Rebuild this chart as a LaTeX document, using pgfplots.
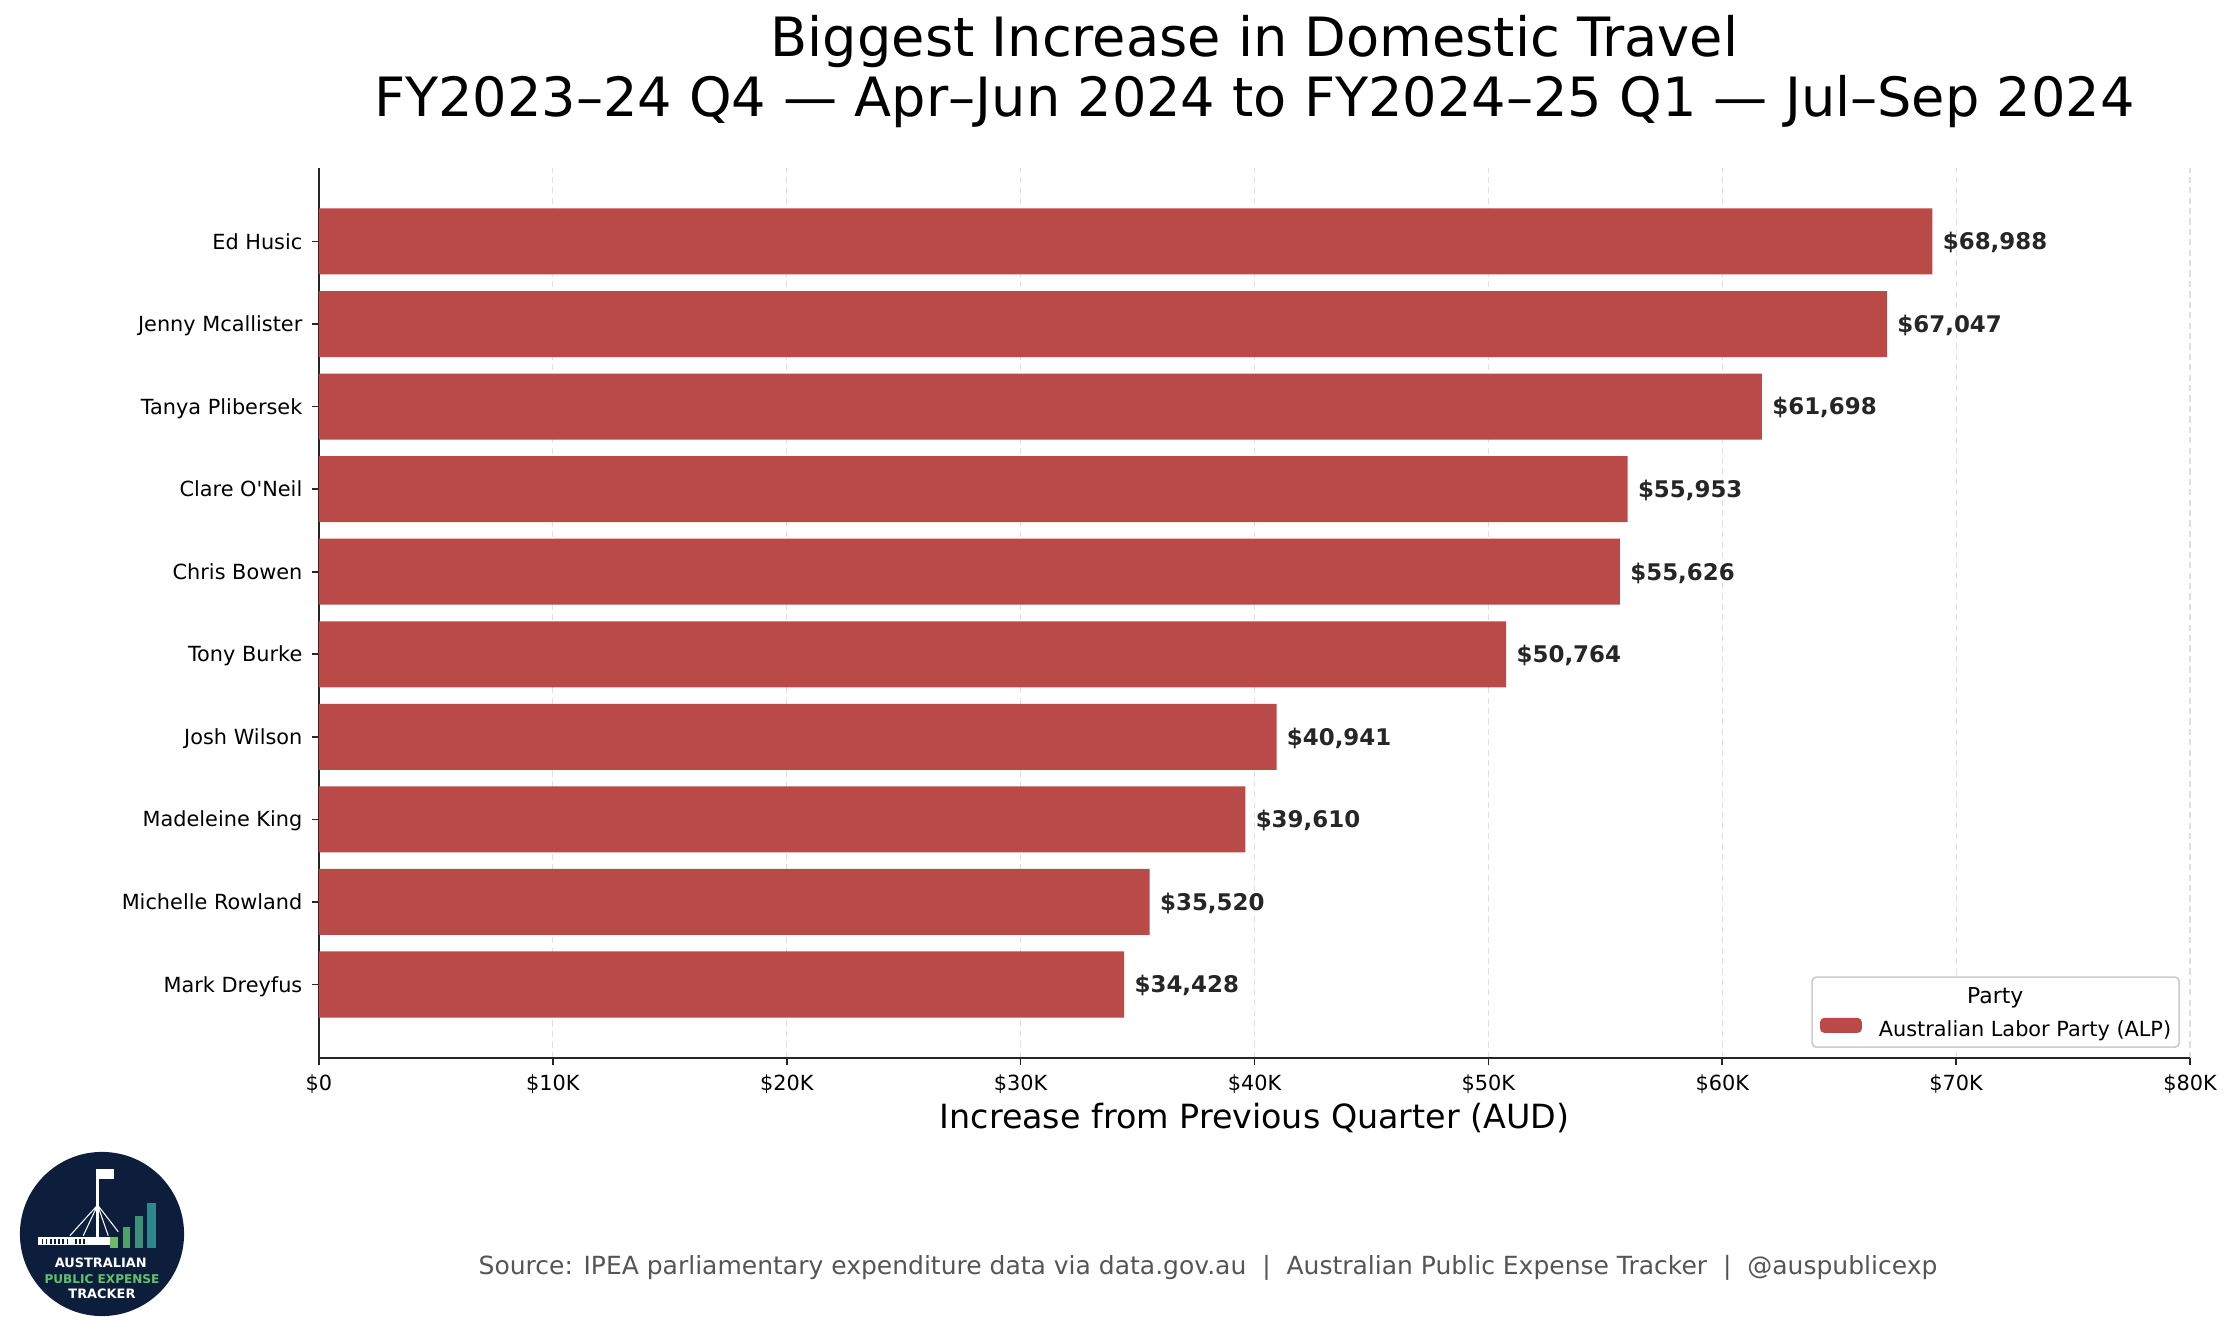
\documentclass[border=0pt]{standalone}
\usepackage{fontspec}
\setmainfont{DejaVu Sans}
\usepackage{pgfplots}
\pgfplotsset{compat=1.18}
\definecolor{barred}{RGB}{185,74,72}
\definecolor{axgray}{RGB}{38,38,38}
\definecolor{srcgray}{RGB}{85,85,85}
\definecolor{navy}{RGB}{12,30,60}
\definecolor{lgA}{RGB}{110,185,100}
\definecolor{lgB}{RGB}{80,160,105}
\definecolor{lgC}{RGB}{60,145,120}
\definecolor{lgD}{RGB}{45,135,140}
\definecolor{logogreen}{RGB}{92,196,106}
\begin{document}
\begin{tikzpicture}
\path[use as bounding box] (-153.12pt,-133.92pt) rectangle (917.76pt,507.84pt);
\begin{axis}[
  at={(0pt,0pt)}, anchor=south west,
  scale only axis, width=898.08pt, height=427.2pt,
  xbar, bar width=0.8, bar shift=0pt,
  xmin=0, xmax=80000, ymin=-0.89, ymax=9.89,
  enlargelimits=false,
  axis x line*=bottom, axis y line*=left,
  axis line style={line width=0.8pt, draw=axgray},
  tick style={line width=0.8pt, draw=axgray},
  tick align=outside, major tick length=3.5pt,
  xtick={0,10000,20000,30000,40000,50000,60000,70000,80000},
  xticklabels={\$0,\$10K,\$20K,\$30K,\$40K,\$50K,\$60K,\$70K,\$80K},
  scaled x ticks=false,
  ytick={0,1,2,3,4,5,6,7,8,9},
  yticklabels={Mark Dreyfus, Michelle Rowland, Madeleine King, Josh Wilson, Tony Burke, Chris Bowen, Clare O\textquotesingle Neil, Tanya Plibersek, Jenny Mcallister, Ed Husic},
  /pgf/number format/assume math mode=true,
  xticklabel style={font=\fontsize{10}{12}\selectfont, inner sep=0pt, text height=7.29pt, text depth=0pt, yshift=-4.66pt},
  yticklabel style={font=\fontsize{10}{12}\selectfont, inner sep=0pt, text height=7.29pt, text depth=0pt, xshift=-4.3pt},
  xmajorgrids, ymajorgrids=false,
  grid style={dash pattern=on 3pt off 2pt, draw=black!12, line width=0.6pt},
  xlabel={Increase from Previous Quarter (AUD)},
  xlabel style={at={(axis description cs:0.5,0)}, anchor=base, yshift=-33.7pt, inner sep=0pt, font=\fontsize{16}{19}\selectfont},
  point meta=x,
  nodes near coords={\$\pgfmathprintnumber[fixed,precision=0,1000 sep={,}]{\pgfplotspointmeta}},
  every node near coord/.append style={font=\fontsize{11}{13}\selectfont\bfseries, text=axgray, inner sep=0pt, text height=8.02pt, text depth=0pt, xshift=4.8pt},
  legend cell align=left,
  legend style={at={(1,0)}, anchor=south east, xshift=-4.8pt, yshift=4.8pt,
    draw=black!20, fill=white, rounded corners=2pt, line width=0.8pt,
    font=\fontsize{10}{12}\selectfont, inner xsep=3.84pt, inner ysep=3.6pt,
    row sep=5.0pt, nodes={inner sep=0pt},
    /tikz/every odd column/.append style={column sep=8.2pt}},
]
\addlegendimage{empty legend}
\addlegendentry{\hspace*{42.4pt}{\fontsize{10.5}{12}\selectfont Party}\rule[-0.9pt]{0pt}{10.1pt}}
\addplot[fill=barred, draw=none,
  legend image code/.code={\fill[barred] (0pt,-2.1pt) rectangle (20pt,5.1pt);}]
  table[x=v, y=i] {
i v
9 68988
8 67047
7 61698
6 55953
5 55626
4 50764
3 40941
2 39610
1 35520
0 34428
};
\addlegendentry{\rule[-0.9pt]{0pt}{10.1pt}Australian Labor Party (ALP)}
\end{axis}
% title
\node[anchor=base, font=\fontsize{26}{31}\selectfont, inner sep=0pt] at (449.04pt,480.48pt) {Biggest Increase in Domestic Travel};
\node[anchor=base, font=\fontsize{26}{31}\selectfont, inner sep=0pt] at (449.04pt,451.68pt) {FY2023–24 Q4 — Apr–Jun 2024 to FY2024–25 Q1 — Jul–Sep 2024};
% source
\node[anchor=base, font=\fontsize{12}{14}\selectfont, text=srcgray, inner sep=0pt] at (426.7pt,-104.16pt) {Source: IPEA parliamentary expenditure data via data.gov.au~~|~~Australian Public Expense Tracker~~|~~@auspublicexp};
% logo
\begin{scope}[shift={(-104.16pt,-84.48pt)}]
\fill[navy] (0,0) circle (39.4pt);
\fill[white] (-30.6pt,-5.3pt) rectangle (3.8pt,-1.3pt);
\foreach \x in {-29,-27,-25,-23,-21,-19,-17,-13,-11,-9} \fill[navy] (\x pt,-4.6pt) rectangle ++(0.8pt,2.2pt);
\draw[white, line width=1.2pt] (-2.1pt,-1.3pt) -- (-2.1pt,31.1pt);
\draw[white, line width=0.5pt] (-2.1pt,13.9pt) -- (-15.4pt,-0.8pt) (-2.1pt,13.9pt) -- (-9pt,-0.8pt) (-2.1pt,13.9pt) -- (3pt,-0.8pt) (-2.1pt,13.9pt) -- (7.8pt,1.1pt);
\fill[white] (-2.1pt,26.2pt) rectangle (5.8pt,31.1pt);
\fill[lgA] (3.8pt,-6.9pt) rectangle (7.8pt,-1.3pt);
\fill[lgB] (9.9pt,-6.9pt) rectangle (13.4pt,3.5pt);
\fill[lgC] (15.7pt,-6.9pt) rectangle (19.8pt,8.6pt);
\fill[lgD] (21.4pt,-6.9pt) rectangle (25.9pt,15.0pt);
\node[anchor=base, inner sep=0pt, text=white, font=\fontsize{6.2}{7}\selectfont\bfseries] at (-0.6pt,-16.3pt) {AUSTRALIAN};
\node[anchor=base, inner sep=0pt, text=logogreen, font=\fontsize{5.8}{7}\selectfont\bfseries] at (0pt,-24pt) {PUBLIC EXPENSE};
\node[anchor=base, inner sep=0pt, text=white, font=\fontsize{6.2}{7}\selectfont\bfseries] at (0pt,-31pt) {TRACKER};
\end{scope}
\end{tikzpicture}
\end{document}
